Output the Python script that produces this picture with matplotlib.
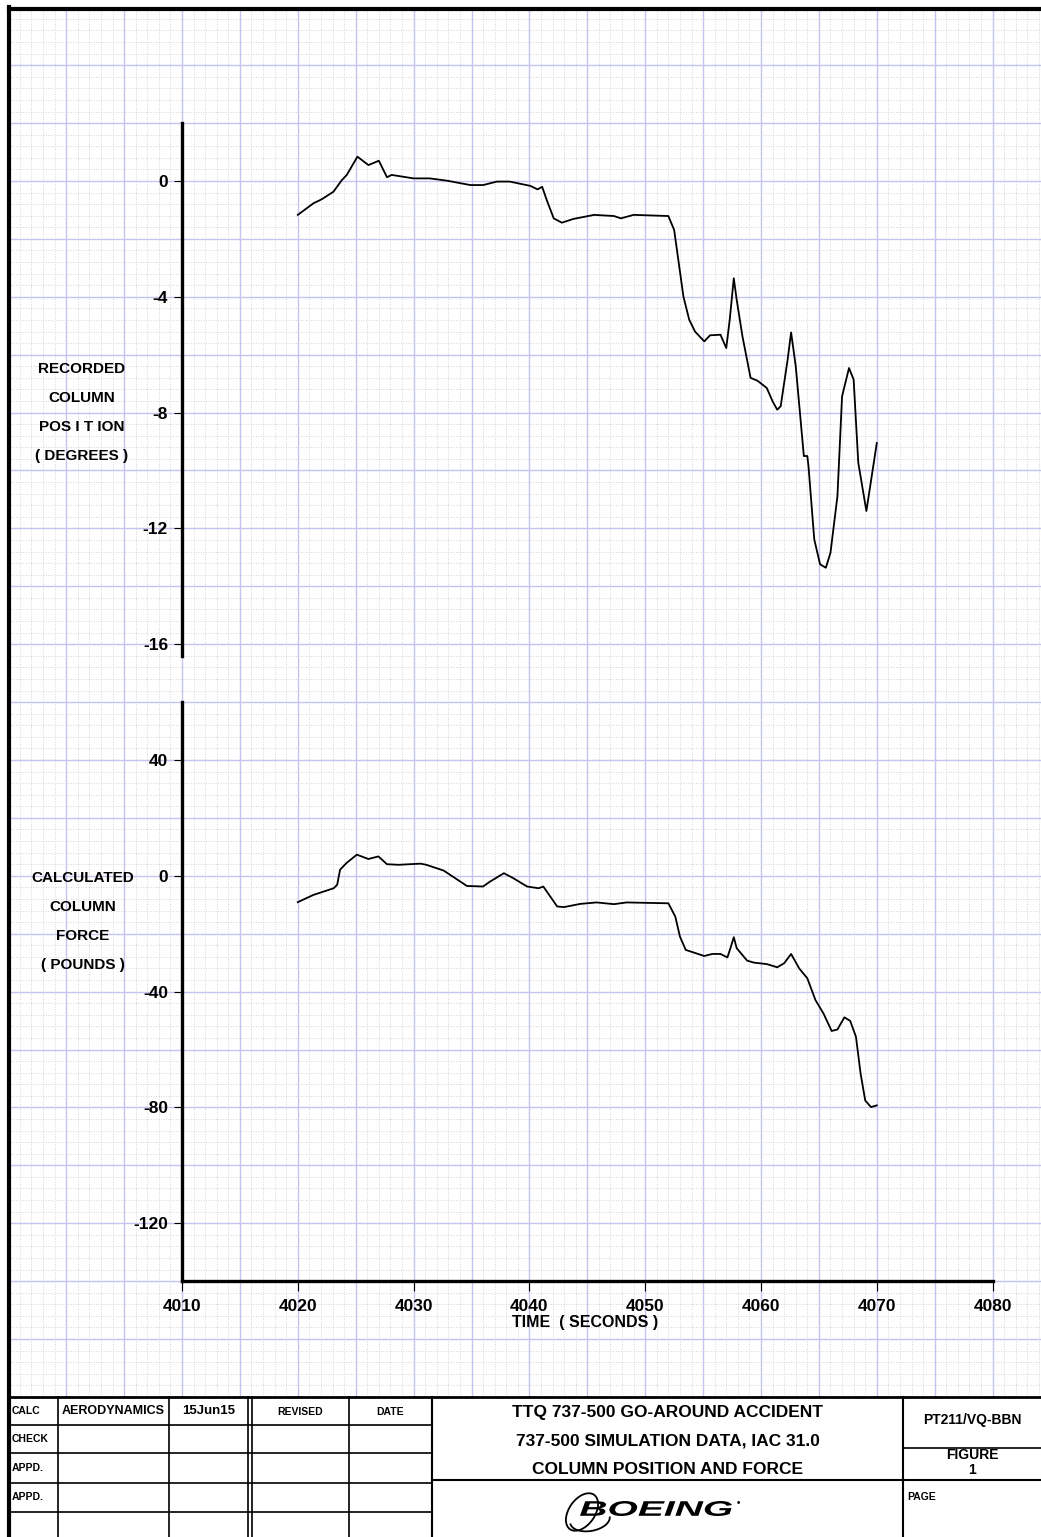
import matplotlib.pyplot as plt
import matplotlib.patches as mpatches
from matplotlib.lines import Line2D
from matplotlib.ticker import MultipleLocator
from matplotlib.textpath import TextPath
from matplotlib.font_manager import FontProperties
from matplotlib.transforms import Affine2D

W, H = 1041, 1537

# recorded column position (degrees)
pos_time = [4020.0, 4021.35, 4022.07, 4023.08, 4023.8, 4024.23, 4025.15, 4026.1, 4027.0, 4027.7,
            4028.1, 4030.0, 4031.4, 4032.9, 4034.9, 4036.0, 4037.2, 4038.3, 4040.1, 4040.7,
            4041.1, 4041.5, 4042.1, 4042.8, 4043.8, 4045.6, 4047.3, 4047.9, 4049.0, 4052.0,
            4052.5, 4052.9, 4053.3, 4053.8, 4054.3, 4055.1, 4055.6, 4056.5, 4057.0, 4057.3,
            4057.65, 4057.9, 4058.4, 4059.1, 4059.7, 4060.5, 4061.0, 4061.4, 4061.7, 4062.3,
            4062.6, 4063.0, 4063.7, 4064.0, 4064.1, 4064.6, 4065.1, 4065.6, 4066.0, 4066.6,
            4067.0, 4067.6, 4068.0, 4068.4, 4069.1, 4070.0]
pos_deg = [-1.17, -0.77, -0.63, -0.37, 0.03, 0.21, 0.84, 0.55, 0.70, 0.13,
           0.21, 0.09, 0.09, 0.01, -0.14, -0.14, -0.02, -0.02, -0.17, -0.29,
           -0.2, -0.66, -1.29, -1.44, -1.31, -1.17, -1.21, -1.29, -1.17, -1.21,
           -1.69, -2.84, -3.99, -4.79, -5.2, -5.54, -5.33, -5.31, -5.77, -4.79,
           -3.36, -4.10, -5.37, -6.8, -6.9, -7.15, -7.61, -7.9, -7.78, -6.17,
           -5.23, -6.40, -9.5, -9.5, -9.85, -12.38, -13.24, -13.36, -12.84, -10.89,
           -7.44, -6.46, -6.86, -9.73, -11.40, -9.05]

# calculated column force (pounds)
force_time = [4020.0, 4021.35, 4023.1, 4023.4, 4023.65, 4024.2, 4025.1, 4026.1, 4026.96, 4027.7,
              4028.7, 4030.6, 4031.1, 4032.6, 4034.6, 4036.0, 4036.6, 4037.8, 4038.6, 4039.8,
              4040.8, 4041.2, 4042.4, 4043.0, 4044.4, 4045.8, 4047.3, 4048.4, 4052.0, 4052.6,
              4053.0, 4053.5, 4055.1, 4055.8, 4056.5, 4057.1, 4057.4, 4057.65, 4057.9, 4058.8,
              4059.4, 4060.5, 4061.4, 4062.0, 4062.6, 4063.3, 4064.0, 4064.7, 4065.4, 4066.1,
              4066.6, 4067.2, 4067.7, 4068.2, 4068.6, 4069.0, 4069.5, 4070.0]
force_lb = [-9.1, -6.6, -4.3, -3.1, 2.1, 4.4, 7.3, 5.8, 6.7, 4.0,
            3.8, 4.2, 3.8, 1.8, -3.5, -3.7, -2.0, 0.9, -0.8, -3.7,
            -4.3, -3.7, -10.6, -10.8, -9.7, -9.2, -9.8, -9.2, -9.5, -14.1,
            -21.0, -25.6, -27.7, -27.0, -27.0, -28.2, -24.5, -21.2, -25.0, -29.3,
            -30.0, -30.5, -31.6, -30.2, -27.0, -32.0, -35.4, -42.9, -47.6, -53.6,
            -53.1, -48.9, -50.1, -55.6, -68.3, -77.6, -79.9, -79.3]

time_ticks = [4010, 4020, 4030, 4040, 4050, 4060, 4070, 4080]
pos_ticks = [0, -4, -8, -12, -16]
force_ticks = [40, 0, -40, -80, -120]

plt.rcParams["font.family"] = ["Liberation Sans", "DejaVu Sans"]
plt.rcParams["font.weight"] = "bold"
plt.rcParams["axes.unicode_minus"] = False

fig = plt.figure(figsize=(W / 100, H / 100), dpi=100)

# page geometry in pixels: one grid cell = 5 s = 2 deg = 20 lb
CELL = 57.9
X0, Y0 = 182.0, 181.0          # t=4010, 0 deg
px_s = CELL / 5
px_deg = CELL / 2
px_lb = CELL / 20
Y0_LB = Y0 + 12 * CELL


def box(x0, y0, x1, y1):
    return [x0 / W, 1 - y1 / H, (x1 - x0) / W, (y1 - y0) / H]


def ftext(x, y, s, **kw):
    kw.setdefault("ha", "center")
    kw.setdefault("va", "center")
    kw.setdefault("fontsize", 12)
    fig.text(x / W, 1 - y / H, s, **kw)


# graph paper background
gx0, gy0, gx1, gy1 = X0 - 3 * CELL, Y0 - 3 * CELL, W, Y0 + 21 * CELL
bg = fig.add_axes(box(gx0, gy0, gx1, gy1), zorder=0)
bg.set_xlim(3995, 3995 + (gx1 - gx0) / px_s)
bg.set_ylim(-42, 6)
bg.xaxis.set_major_locator(MultipleLocator(5))
bg.xaxis.set_minor_locator(MultipleLocator(1))
bg.yaxis.set_major_locator(MultipleLocator(2))
bg.yaxis.set_minor_locator(MultipleLocator(0.4))
bg.grid(which="minor", color="#c8c8c8", lw=0.6, ls=(0, (1, 2)))
bg.grid(which="major", color="#c4c4f0", lw=1.0)
bg.tick_params(which="both", length=0, labelbottom=False, labelleft=False)
for sp in bg.spines.values():
    sp.set_visible(False)

# top panel: column position
ax1 = fig.add_axes(box(X0, Y0 - 2 * px_deg, X0 + 70 * px_s, Y0 + 16.4 * px_deg), zorder=2)
ax1.patch.set_alpha(0)
ax1.plot(pos_time, pos_deg, color="black", lw=1.3)
ax1.set_xlim(4010, 4080)
ax1.set_ylim(-16.4, 2)
ax1.set_yticks(pos_ticks)
ax1.set_xticks([])
for k in ["top", "right", "bottom"]:
    ax1.spines[k].set_visible(False)
ax1.spines["left"].set_linewidth(2.4)
ax1.tick_params(axis="y", direction="out", length=6, width=0.8, labelsize=12.5, pad=4)

# bottom panel: column force
ax2 = fig.add_axes(box(X0, Y0_LB - 60 * px_lb, X0 + 70 * px_s, Y0_LB + 140 * px_lb), zorder=2)
ax2.patch.set_alpha(0)
ax2.plot(force_time, force_lb, color="black", lw=1.3)
ax2.set_xlim(4010, 4080)
ax2.set_ylim(-140, 60)
ax2.set_yticks(force_ticks)
ax2.set_xticks(time_ticks)
for k in ["top", "right"]:
    ax2.spines[k].set_visible(False)
ax2.spines["left"].set_linewidth(2.4)
ax2.spines["bottom"].set_linewidth(2.4)
ax2.tick_params(axis="y", direction="out", length=6, width=0.8, labelsize=12.5, pad=4)
ax2.tick_params(axis="x", direction="out", length=7, width=0.8, labelsize=12.5, pad=6)

ftext(585, 1323, "TIME  ( SECONDS )", fontsize=11.5)

for i, s in enumerate(["RECORDED", "COLUMN", "POS I T ION", "( DEGREES )"]):
    ftext(82, 369 + 29 * i, s, fontsize=11)
for i, s in enumerate(["CALCULATED", "COLUMN", "FORCE", "( POUNDS )"]):
    ftext(83, 878 + 29 * i, s, fontsize=11)

# page border
lw_b = 3
fig.add_artist(Line2D([9 / W, 9 / W], [0, 1 - 7 / H], transform=fig.transFigure, color="black", lw=lw_b))
fig.add_artist(Line2D([9 / W, 1], [1 - 9 / H, 1 - 9 / H], transform=fig.transFigure, color="black", lw=lw_b))


def hline(x0, x1, y, lw=1.2):
    fig.add_artist(Line2D([x0 / W, x1 / W], [1 - y / H, 1 - y / H], transform=fig.transFigure,
                          color="black", lw=lw))


def vline(x, y0, y1, lw=1.2):
    fig.add_artist(Line2D([x / W, x / W], [1 - y0 / H, 1 - y1 / H], transform=fig.transFigure,
                          color="black", lw=lw))


# title block
TB = Y0 + 21 * CELL
fig.add_artist(mpatches.Rectangle((9 / W, 0), 1, (H - TB) / H, transform=fig.transFigure,
                                  facecolor="white", edgecolor="none", zorder=1))
hline(9, W, TB, lw=2)
for y in [1425, 1453, 1483, 1512]:
    hline(9, 432, y)
for x in [58, 169, 248, 252, 349]:
    vline(x, TB, H)
vline(432, TB, H, lw=1.5)
vline(903, TB, H, lw=1.5)
hline(432, W, 1480, lw=1.5)
hline(903, W, 1448)

small = dict(fontsize=7.5, fontweight="bold")
ftext(12, 1411, "CALC", ha="left", **small)
ftext(12, 1439, "CHECK", ha="left", **small)
ftext(12, 1468, "APPD.", ha="left", **small)
ftext(12, 1497, "APPD.", ha="left", **small)
ftext(113, 1411, "AERODYNAMICS", fontsize=9)
ftext(209, 1411, "15Jun15", fontsize=9.5)
ftext(300, 1412, "REVISED", **small)
ftext(390, 1412, "DATE", **small)

ftext(668, 1413, "TTQ 737-500 GO-AROUND ACCIDENT", fontsize=12.5)
ftext(668, 1441, "737-500 SIMULATION DATA, IAC 31.0", fontsize=12.5)
ftext(668, 1469, "COLUMN POSITION AND FORCE", fontsize=12.5)

ftext(972, 1420, "PT211/VQ-BBN", fontsize=10)
ftext(972, 1455, "FIGURE", fontsize=10)
ftext(972, 1470, "1", fontsize=10)
ftext(907, 1497, "PAGE", ha="left", **small)

# BOEING logotype, stretched wide
tp = TextPath((0, 0), "BOEING", size=20,
              prop=FontProperties(family="Liberation Sans", weight="bold", style="italic"))
bb = tp.get_extents()
sx = 152 / bb.width
sy = 15 / bb.height
tr = Affine2D().translate(-bb.x0, -bb.y0).scale(sx, sy).translate(580, H - 1516)
fig.add_artist(mpatches.PathPatch(tr.transform_path(tp), facecolor="black", edgecolor="none",
                                  transform=None))
fig.add_artist(mpatches.Ellipse((582, H - 1512), 26, 42, angle=-35, fill=False, lw=1.3,
                                transform=None, edgecolor="black"))
fig.add_artist(mpatches.Arc((590, H - 1520), 40, 22, angle=10, theta1=180, theta2=360, lw=1.3,
                            transform=None, edgecolor="black"))
ftext(738, 1503, "\u2022", fontsize=7)

fig.savefig("out.png", dpi=100)
